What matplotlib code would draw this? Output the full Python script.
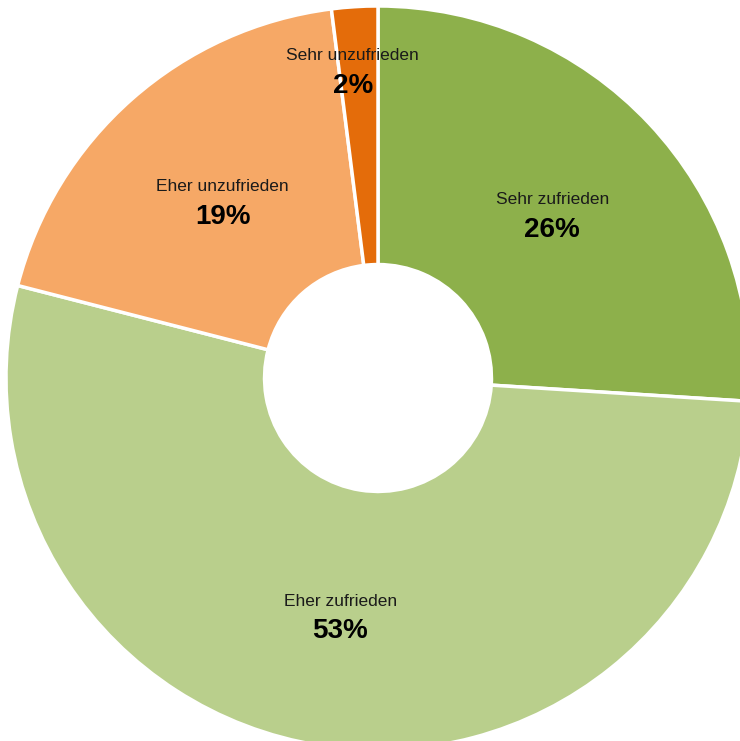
import numpy as np
import matplotlib
matplotlib.use("Agg")
import matplotlib.pyplot as plt

categories = ["Sehr zufrieden", "Eher zufrieden", "Eher unzufrieden", "Sehr unzufrieden"]
values = [26, 53, 19, 2]
colors = ["#8DB04B", "#B9CF8C", "#F6A866", "#E46C0A"]
label_dist = [0.643, 0.648, 0.632, 0.828]
label_dx = [0.0, 0.0, 0.0, -0.016]

plt.rcParams['font.family'] = ['Liberation Sans', 'DejaVu Sans']

fig = plt.figure(figsize=(7.40, 7.41), dpi=100)
ax = fig.add_axes([0, 0, 1, 1])
R = 372.0

wedges, _ = ax.pie(values, colors=colors, startangle=90, counterclock=False,
                   radius=1.0, wedgeprops=dict(width=0.695, edgecolor='white', linewidth=2.5))
ax.axis('off')
ax.set_xlim(-378 / R, (740 - 378) / R)
ax.set_ylim(-(741 - 378) / R, 378 / R)
ax.set_aspect('auto')

total = sum(values)
cum = 0
for cat, v, d, dx in zip(categories, values, label_dist, label_dx):
    mid = 90 - (cum + v / 2) / total * 360
    cum += v
    x = d * np.cos(np.radians(mid)) + dx
    y = d * np.sin(np.radians(mid))
    ax.text(x, y + 0.04, cat, ha='center', va='center', fontsize=12.5, color='#1a1a1a')
    ax.text(x, y - 0.041, f"{v}%", ha='center', va='center', fontsize=20, fontweight='bold', color='black')

fig.savefig("out.png", dpi=100)
